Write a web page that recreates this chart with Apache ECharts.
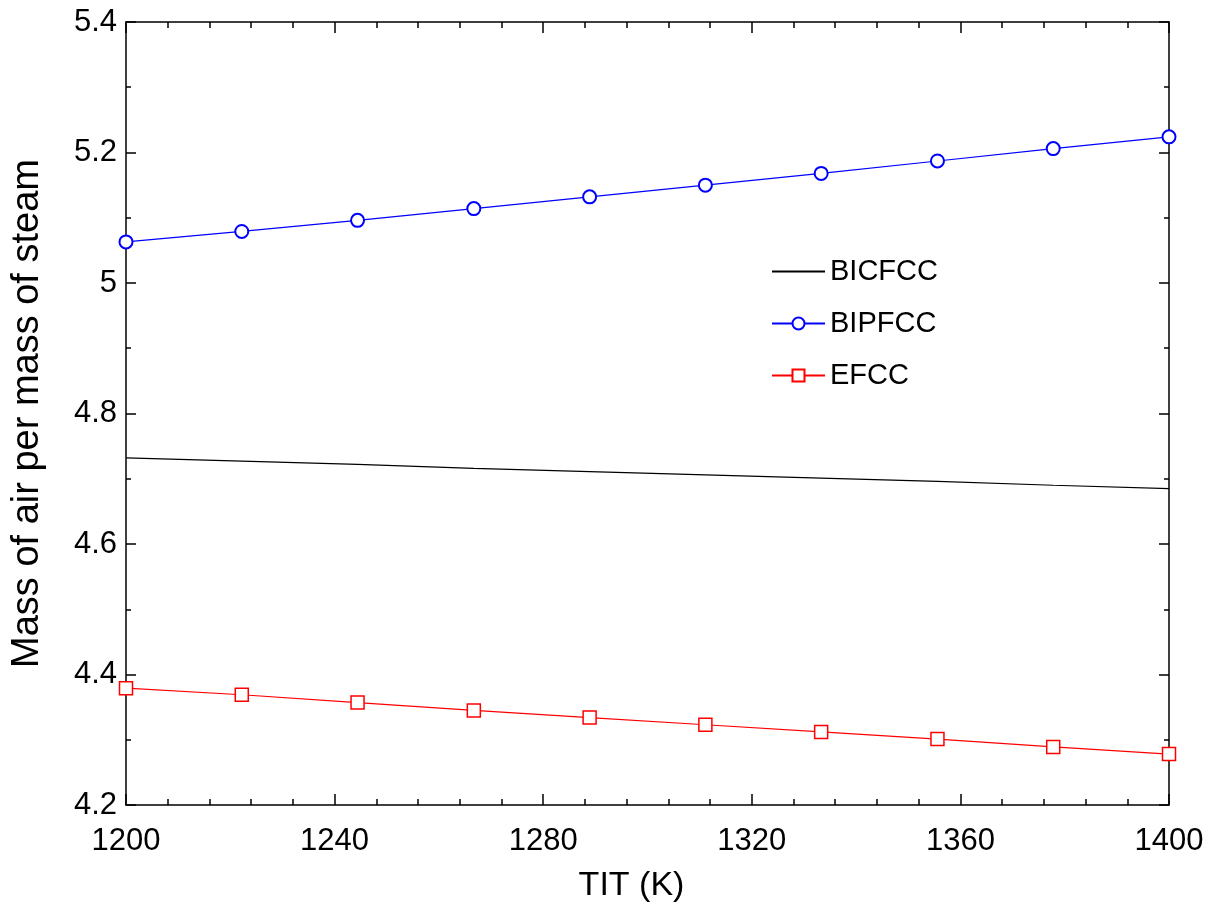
<!DOCTYPE html>
<html>
<head>
<meta charset="utf-8">
<script src="https://cdn.jsdelivr.net/npm/echarts@6/dist/echarts.min.js"></script>
<style>html,body{margin:0;padding:0;background:#fff}#c{width:1207px;height:915px}</style>
</head>
<body>
<div id="c"></div>
<script>
const tit = [1200, 1222.2, 1244.4, 1266.7, 1288.9, 1311.1, 1333.3, 1355.6, 1377.8, 1400];
const bicfcc = [4.732, 4.727, 4.722, 4.716, 4.711, 4.706, 4.701, 4.696, 4.690, 4.685];
const bipfcc = [5.063, 5.079, 5.096, 5.114, 5.132, 5.150, 5.168, 5.187, 5.206, 5.224];
const efcc = [4.379, 4.369, 4.357, 4.345, 4.334, 4.323, 4.312, 4.301, 4.289, 4.278];

const pair = (ys) => tit.map((x, i) => [x, ys[i]]);
const font = 'Liberation Sans, Arial, sans-serif';

const chart = echarts.init(document.getElementById('c'));
const axLine = { show: true, lineStyle: { color: '#000', width: 1.5 } };
const tickStyle = { color: '#000', width: 1.5 };
chart.setOption({
  animation: false,
  grid: { left: 126, right: 38, top: 22, bottom: 110 },
  legend: {
    orient: 'vertical', left: 766, top: 252, itemGap: 23,
    itemWidth: 53, itemHeight: 15,
    textStyle: { fontFamily: font, fontSize: 29, color: '#000' },
    data: [
      { name: 'BICFCC', itemStyle: { opacity: 0, color: 'rgba(0,0,0,0)', borderColor: 'rgba(0,0,0,0)' } },
      { name: 'BIPFCC' },
      { name: 'EFCC' }
    ]
  },
  xAxis: [{
    type: 'value', min: 1200, max: 1400, interval: 40,
    name: 'TIT (K)', nameLocation: 'middle', nameGap: 64,
    nameTextStyle: { fontFamily: font, fontSize: 34, color: '#000', padding: [0, 32, 0, 0] },
    axisLine: axLine,
    axisTick: { inside: true, length: 11, lineStyle: tickStyle },
    minorTick: { show: true, splitNumber: 5, length: 6, lineStyle: tickStyle },
    axisLabel: { fontFamily: font, fontSize: 31, color: '#000', margin: 21, formatter: v => String(v) },
    splitLine: { show: false }
  }, {
    type: 'value', min: 1200, max: 1400, interval: 40, position: 'top',
    axisLine: axLine,
    axisTick: { inside: true, length: 11, lineStyle: tickStyle },
    minorTick: { show: true, splitNumber: 5, length: 6, lineStyle: tickStyle },
    axisLabel: { show: false }, splitLine: { show: false }
  }],
  yAxis: [{
    type: 'value', min: 4.2, max: 5.4, interval: 0.2,
    name: 'Mass of air per mass of steam', nameLocation: 'middle', nameGap: 79,
    nameTextStyle: { fontFamily: font, fontSize: 38, color: '#000' },
    axisLine: axLine,
    axisTick: { inside: true, length: 10, lineStyle: tickStyle },
    minorTick: { show: true, splitNumber: 2, length: 5, lineStyle: tickStyle },
    axisLabel: { fontFamily: font, fontSize: 31, color: '#000', margin: 9,
      formatter: v => String(Math.round(v * 10) / 10) },
    splitLine: { show: false }
  }, {
    type: 'value', min: 4.2, max: 5.4, interval: 0.2, position: 'right',
    axisLine: axLine,
    axisTick: { inside: true, length: 10, lineStyle: tickStyle },
    minorTick: { show: true, splitNumber: 2, length: 5, lineStyle: tickStyle },
    axisLabel: { show: false }, splitLine: { show: false }
  }],
  series: [{
    name: 'BICFCC', type: 'line', data: pair(bicfcc), symbol: 'none',
    lineStyle: { color: '#000', width: 1.2 }, itemStyle: { color: '#000' }
  }, {
    name: 'BIPFCC', type: 'line', data: pair(bipfcc), symbol: 'emptyCircle', symbolSize: 13,
    lineStyle: { color: '#0000ff', width: 1.2 },
    itemStyle: { color: '#0000ff', borderColor: '#0000ff', borderWidth: 1.5 }
  }, {
    name: 'EFCC', type: 'line', data: pair(efcc), symbol: 'rect', symbolSize: 13,
    lineStyle: { color: '#ff0000', width: 1.2 },
    itemStyle: { color: '#fff', borderColor: '#ff0000', borderWidth: 1.5 }
  }]
});
</script>
</body>
</html>
